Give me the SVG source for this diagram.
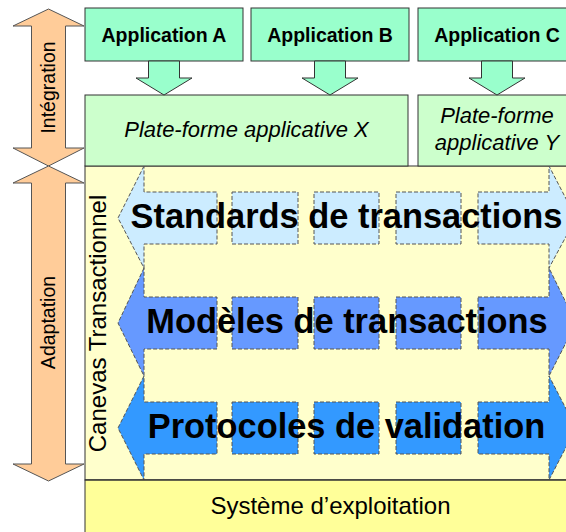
<svg xmlns="http://www.w3.org/2000/svg" width="566" height="532" viewBox="0 0 566 532">
<style>
.app{fill:#99FFCC;stroke:#333;stroke-width:1}
.plat{fill:#CCFFCC;stroke:#333;stroke-width:1}
.peach{fill:#FFCC99;stroke:#555;stroke-width:1}
.dash{stroke:#555;stroke-width:1;stroke-dasharray:4 2}
.s1{fill:#CCECFF}
.s2{fill:#6699FF}
.s3{fill:#3399FF}
.t{font-family:"Liberation Sans",Arial,sans-serif;fill:#000;text-anchor:middle}
.tb{font-weight:bold;font-size:19.5px}
.ti{font-style:italic;font-size:22px}
.big{font-weight:bold;font-size:34.4px}
</style>
<rect width="566" height="532" fill="#fff"/>
<g id="canevas">
<rect x="85" y="166" width="491" height="314" fill="#FFFFCC" stroke="#333" stroke-width="1"/>
<text class="t" font-size="24" transform="translate(106,323.5) rotate(-90)">Canevas Transactionnel</text>
</g>
<g id="systeme">
<rect x="85" y="480" width="491" height="60" fill="#FFFF99" stroke="#333" stroke-width="1"/>
<text class="t" font-size="24" x="330.5" y="514">Système d’exploitation</text>
</g>
<g id="integration">
<polygon class="peach" points="48.5,9 84,26 65.5,26 65.5,148 84,148 48.5,166 13,148 31.5,148 31.5,26 13,26"/>
<text class="t" font-size="19.5" transform="translate(55,87.5) rotate(-90)">Intégration</text>
</g>
<g id="adaptation">
<polygon class="peach" points="48.5,166 84,183 65.5,183 65.5,464 84,464 48.5,481 13,464 31.5,464 31.5,183 13,183"/>
<text class="t" font-size="19.5" transform="translate(55,322.5) rotate(-90)">Adaptation</text>
</g>
<g id="appA">
<rect class="app" x="85" y="8" width="158" height="53"/>
<text class="t tb" x="164" y="41.5">Application A</text>
</g>
<g id="appB">
<rect class="app" x="251" y="8" width="158" height="53"/>
<text class="t tb" x="330" y="41.5">Application B</text>
</g>
<g id="appC">
<rect class="app" x="418" y="8" width="158" height="53"/>
<text class="t tb" x="497" y="41.5">Application C</text>
</g>
<g id="platX">
<rect class="plat" x="85" y="95" width="323" height="71"/>
<text class="t ti" x="246.5" y="137">Plate-forme applicative X</text>
</g>
<g id="platY">
<rect class="plat" x="418" y="95" width="158" height="71"/>
<text class="t ti" x="497" y="123">Plate-forme</text>
<text class="t ti" x="497" y="150">applicative Y</text>
</g>
<g id="connectors">
<polygon class="app" points="148.5,61 179.5,61 179.5,78 192,78 164,95 136,78 148.5,78"/>
<polygon class="app" points="314.5,61 345.5,61 345.5,78 358,78 330,95 302,78 314.5,78"/>
<polygon class="app" points="481.5,61 512.5,61 512.5,78 525,78 497,95 469,78 481.5,78"/>
</g>
<g id="standards">
<polygon class="s1 dash" points="144,166 118,218 144,268 144,244 217,244 217,192 144,192"/>
<rect class="s1 dash" x="232" y="192" width="66" height="52"/>
<rect class="s1 dash" x="314" y="192" width="65" height="52"/>
<rect class="s1 dash" x="396" y="192" width="65" height="52"/>
<polygon class="s1 dash" points="478,192 549,192 549,166 576,218 549,268 549,244 478,244"/>
<text class="t big" x="346.5" y="228">Standards de transactions</text>
</g>
<g id="modeles">
<polygon class="s2 dash" points="144,268 118,323 144,376 144,349 217,349 217,297 144,297"/>
<rect class="s2 dash" x="232" y="297" width="66" height="52"/>
<rect class="s2 dash" x="314" y="297" width="65" height="52"/>
<rect class="s2 dash" x="396" y="297" width="65" height="52"/>
<polygon class="s2 dash" points="478,297 549,297 549,268 576,323 549,376 549,349 478,349"/>
<text class="t big" x="347" y="333">Modèles de transactions</text>
</g>
<g id="protocoles">
<polygon class="s3 dash" points="144,376 118,428 144,480 144,454 217,454 217,402 144,402"/>
<rect class="s3 dash" x="232" y="402" width="66" height="52"/>
<rect class="s3 dash" x="314" y="402" width="65" height="52"/>
<rect class="s3 dash" x="396" y="402" width="65" height="52"/>
<polygon class="s3 dash" points="478,402 549,402 549,376 576,428 549,480 549,454 478,454"/>
<text class="t big" x="346.5" y="438">Protocoles de validation</text>
</g>
<line x1="85" y1="480" x2="576" y2="480" stroke="#333" stroke-width="1"/>
</svg>
